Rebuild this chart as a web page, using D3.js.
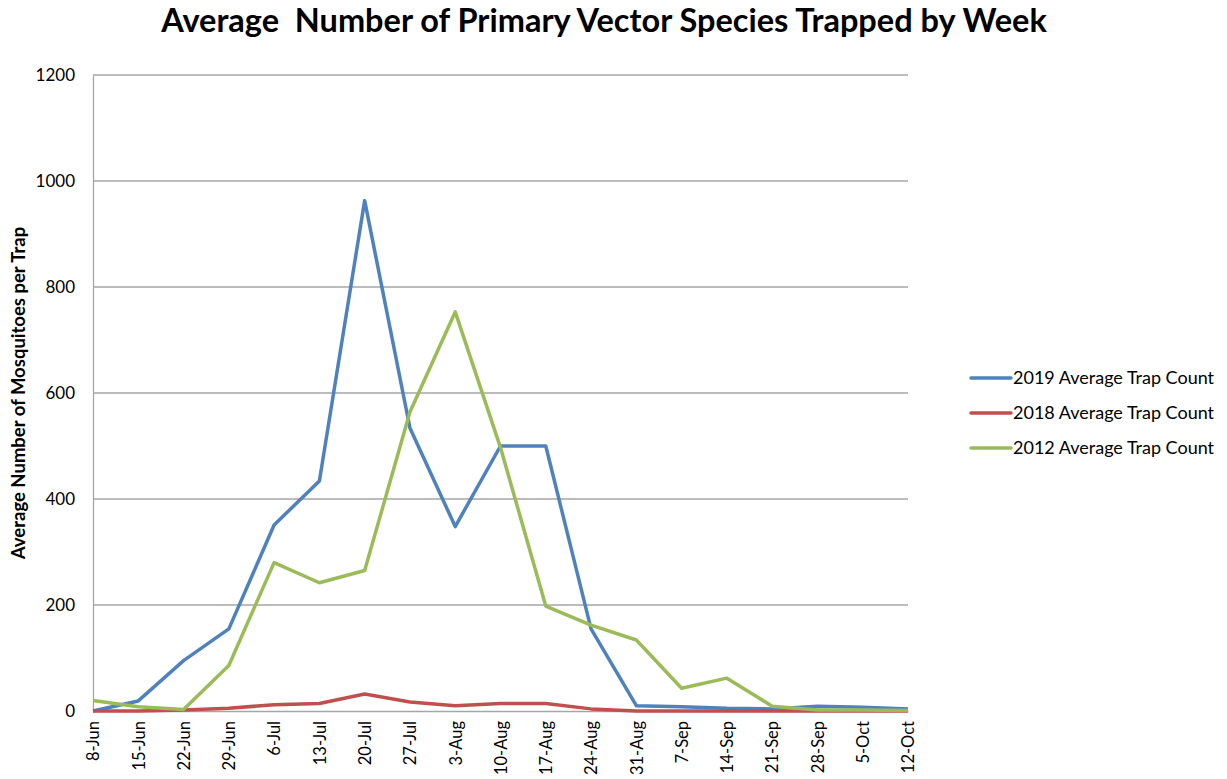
<!DOCTYPE html>
<html>
<head>
<meta charset="utf-8">
<script src="https://cdn.jsdelivr.net/npm/d3@7"></script>
<style>
  body { margin: 0; background: #fff; }
  text { font-family: Lato, "Open Sans", sans-serif; }
</style>
</head>
<body>
<div id="chart"></div>
<script>
const weeks = ['8-Jun', '15-Jun', '22-Jun', '29-Jun', '6-Jul', '13-Jul', '20-Jul', '27-Jul',
  '3-Aug', '10-Aug', '17-Aug', '24-Aug', '31-Aug', '7-Sep', '14-Sep', '21-Sep', '28-Sep', '5-Oct', '12-Oct'];

const count2019 = [0, 19, 95, 155, 351, 434, 963, 534, 348, 500, 500, 155, 10, 8, 5, 4, 9, 7, 4];
const count2018 = [0, 0, 2, 5, 12, 14, 32, 17, 10, 14, 14, 4, 0, 0, 0, 0, 0, 0, 0];
const count2012 = [20, 8, 3, 86, 280, 242, 265, 564, 753, 497, 198, 162, 134, 43, 62, 9, 2, 2, 1];

const seriesNames = ['2019 Average Trap Count', '2018 Average Trap Count', '2012 Average Trap Count'];
const seriesColors = ['#4F81BD', '#C0504D', '#9BBB59'];
const yTicks = [0, 200, 400, 600, 800, 1000, 1200];

const width = 1227, height = 779;
const plot = {left: 93, right: 908, top: 75, bottom: 711};

const series = [count2019, count2018, count2012].map((values, i) => ({
  name: seriesNames[i], color: seriesColors[i], values
}));

const svg = d3.select('#chart').append('svg')
  .attr('width', width)
  .attr('height', height);

const x = d3.scalePoint().domain(weeks).range([plot.left, plot.right]);
const y = d3.scaleLinear().domain([0, 1200]).range([plot.bottom, plot.top]);

// title
svg.append('text')
  .attr('x', 604)
  .attr('y', 32)
  .attr('text-anchor', 'middle')
  .style('font-size', '32.5px')
  .style('font-weight', 'bold')
  .style('white-space', 'pre')
  .attr('xml:space', 'preserve')
  .text('Average  Number of Primary Vector Species Trapped by Week');

// gridlines
svg.append('g')
  .selectAll('line')
  .data(yTicks.filter(d => d > 0))
  .enter()
  .append('line')
  .attr('x1', plot.left).attr('x2', plot.right)
  .attr('y1', d => y(d)).attr('y2', d => y(d))
  .attr('stroke', '#a6a6a6')
  .attr('stroke-width', 1.3);

// y axis
const yAxis = svg.append('g')
  .attr('transform', `translate(${plot.left},0)`)
  .call(d3.axisLeft(y).tickValues(yTicks).tickFormat(d3.format('d')).tickSize(0).tickPadding(18));
yAxis.select('.domain').attr('stroke', '#a6a6a6').attr('stroke-width', 1.3);
yAxis.selectAll('text')
  .style('font-size', '17px')
  .style('font-family', 'Lato, "Open Sans", sans-serif')
  .attr('fill', '#000');

svg.append('text')
  .attr('transform', `translate(25,${(plot.top + plot.bottom) / 2}) rotate(-90)`)
  .attr('text-anchor', 'middle')
  .style('font-size', '18.5px')
  .style('font-weight', 'bold')
  .text('Average Number of Mosquitoes per Trap');

// x axis
const xAxis = svg.append('g')
  .attr('transform', `translate(0,${plot.bottom})`)
  .call(d3.axisBottom(x).tickSize(0).tickPadding(0));
xAxis.select('.domain').attr('stroke', '#a6a6a6').attr('stroke-width', 1.3);
xAxis.selectAll('text')
  .attr('transform', 'rotate(-90)')
  .attr('text-anchor', 'end')
  .attr('x', -10)
  .attr('y', 0)
  .attr('dy', '0.35em')
  .style('font-size', '16.5px')
  .style('font-family', 'Lato, "Open Sans", sans-serif')
  .attr('fill', '#000');

// lines
const line = d3.line()
  .x((d, i) => x(weeks[i]))
  .y(d => y(d));

svg.append('g')
  .selectAll('path')
  .data(series)
  .enter()
  .append('path')
  .attr('d', d => line(d.values))
  .attr('fill', 'none')
  .attr('stroke', d => d.color)
  .attr('stroke-width', 3.5)
  .attr('stroke-linejoin', 'round');

// legend
const legend = svg.append('g')
  .selectAll('g')
  .data(series)
  .enter()
  .append('g')
  .attr('transform', (d, i) => `translate(971,${378 + i * 35})`);

legend.append('line')
  .attr('x1', 0).attr('x2', 40)
  .attr('stroke', d => d.color)
  .attr('stroke-width', 3.5)
  .attr('stroke-linecap', 'round');

legend.append('text')
  .attr('x', 42)
  .attr('dy', '0.35em')
  .style('font-size', '18px')
  .text(d => d.name);
</script>
</body>
</html>
